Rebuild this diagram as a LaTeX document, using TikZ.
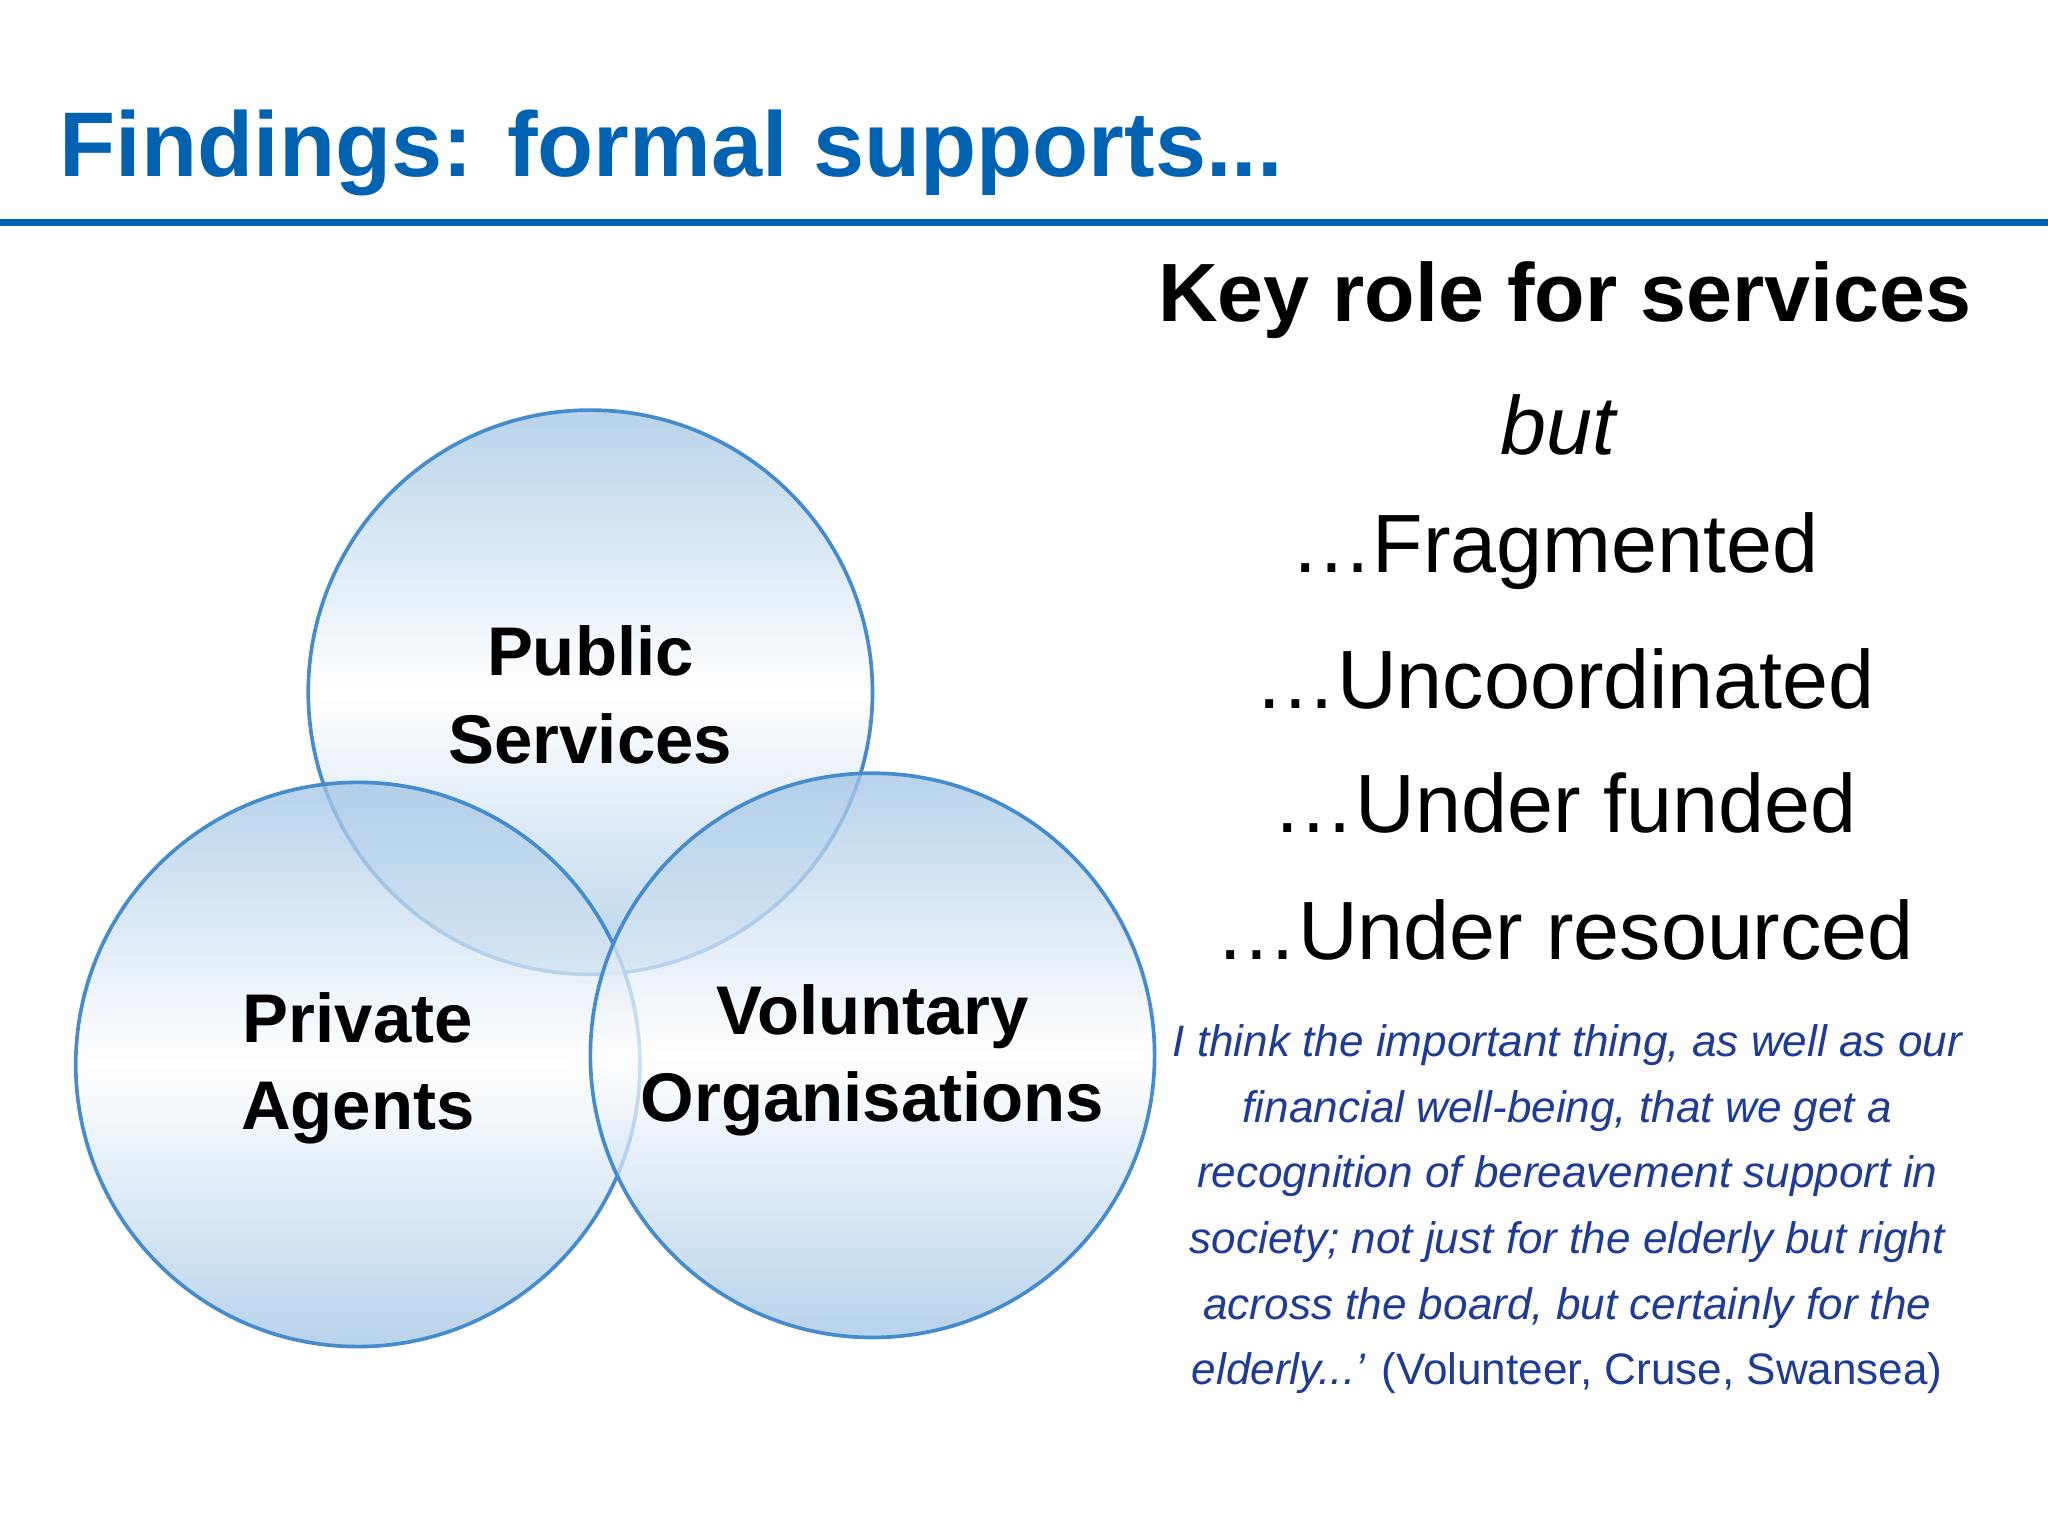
\documentclass[tikz,border=0pt]{standalone}
\usepackage{fontspec}
\setmainfont{Liberation Sans}
\usetikzlibrary{positioning}
\definecolor{titleblue}{RGB}{0,98,176}
\definecolor{ringblue}{RGB}{70,140,205}
\definecolor{shadeblue}{RGB}{160,196,228}
\definecolor{quoteblue}{RGB}{30,60,150}
\tikzset{
  ring/.style={draw=ringblue, line width=0.8pt, top color=shadeblue, bottom color=shadeblue, middle color=white, fill opacity=0.75},
  ringlabel/.style={font=\fontsize{15}{19}\selectfont\bfseries, align=center},
  bigline/.style={font=\fontsize{18}{22}\selectfont},
  quote/.style={font=\fontsize{9.6}{14.3}\selectfont\itshape, text=quoteblue, align=center}
}
\begin{document}
\begin{tikzpicture}[x=0.01cm, y=-0.01cm]
\useasboundingbox (0,0) rectangle (1568,1176);
% Header
    \node[anchor=base west, font=\fontsize{20}{24}\selectfont\bfseries, text=titleblue, inner sep=0] (title) at (45,135) {Findings: formal supports...};
    \fill[titleblue] (0,168) rectangle (1568,173);
% Circles
    \path[ring] (452,530) circle (216);
    \path[ring] (274,815) circle (216);
    \path[ring] (668,808) circle (216);
    \node[ringlabel] (public) at (452,532) {Public\\Services};
    \node[ringlabel] (private) at (274,818) {Private\\Agents};
    \node[ringlabel] (voluntary) at (668,812) {Voluntary\\Organisations};
% Right column
    \node[bigline, font=\fontsize{18}{22}\selectfont\bfseries] (key) at (1198,230) {Key role for services};
    \node[bigline, font=\fontsize{18}{22}\selectfont\itshape] (but) at (1193,325) {but};
    \node[bigline] (frag) at (1190,422) {\dots Fragmented};
    \node[bigline] (uncoord) at (1198,520) {\dots Uncoordinated};
    \node[bigline] (funded) at (1198,615) {\dots Under funded};
    \node[bigline] (resourced) at (1198,712) {\dots Under resourced};
    \node[quote, anchor=north] (quotetext) at (1200,772) {I think the important thing, as well as our\\
      financial well-being, that we get a\\
      recognition of bereavement support in\\
      society; not just for the elderly but right\\
      across the board, but certainly for the\\
      elderly...' {\upshape (Volunteer, Cruse, Swansea)}};
\end{tikzpicture}
\end{document}
